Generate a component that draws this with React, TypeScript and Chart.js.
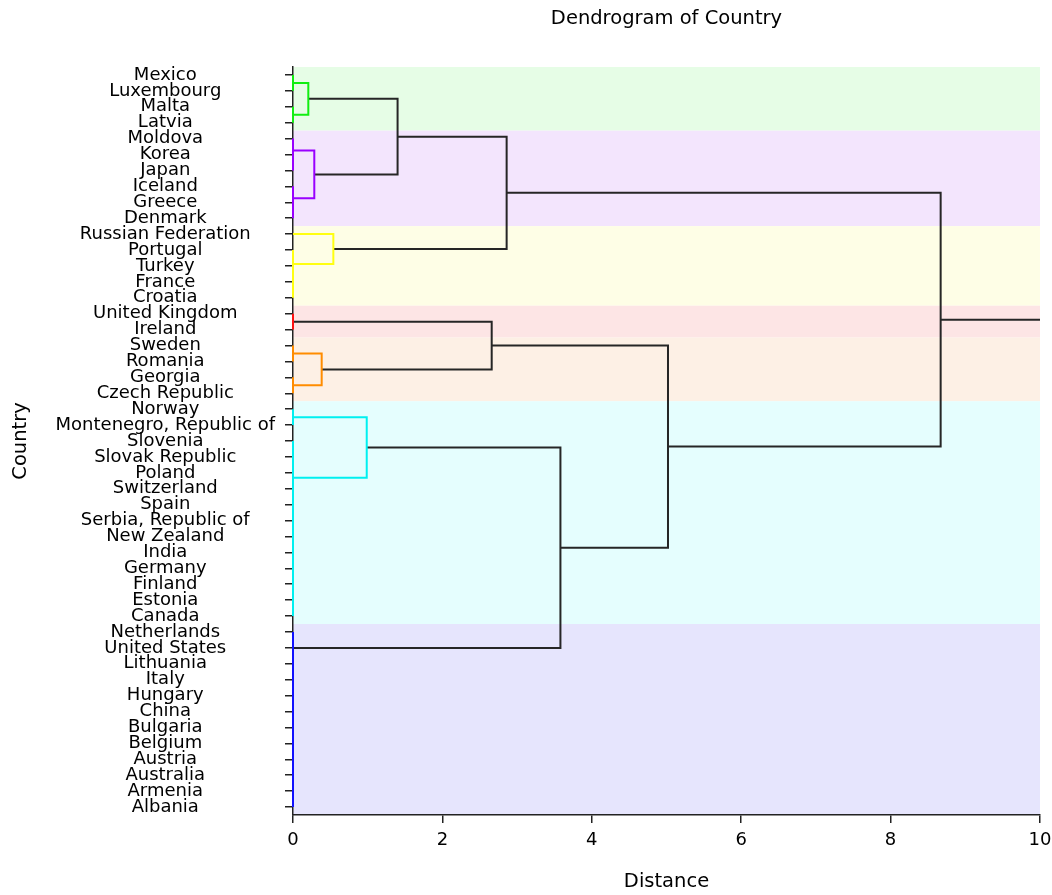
import React, { useEffect, useRef } from 'react';
import { Chart, registerables } from 'chart.js';

Chart.register(...registerables);

// Leaves in display order (top to bottom)
const countries = [
  'Mexico', 'Luxembourg', 'Malta', 'Latvia', 'Moldova', 'Korea', 'Japan', 'Iceland', 'Greece', 'Denmark',
  'Russian Federation', 'Portugal', 'Turkey', 'France', 'Croatia', 'United Kingdom', 'Ireland', 'Sweden',
  'Romania', 'Georgia', 'Czech Republic', 'Norway', 'Montenegro, Republic of', 'Slovenia', 'Slovak Republic',
  'Poland', 'Switzerland', 'Spain', 'Serbia, Republic of', 'New Zealand', 'India', 'Germany', 'Finland',
  'Estonia', 'Canada', 'Netherlands', 'United States', 'Lithuania', 'Italy', 'Hungary', 'China', 'Bulgaria',
  'Belgium', 'Austria', 'Australia', 'Armenia', 'Albania',
];

// Linkage: node ids < 47 are leaves, id 47 + k is merge k
const mergeLeft = [
  0, 2, 47,
  5, 4, 8, 7, 51,
  49,
  13, 12, 11, 10,
  55,
  15,
  17, 19, 62,
  61,
  21, 23, 25, 27, 33, 32, 31, 30, 29, 69, 68, 67, 66,
  45, 44, 43, 42, 41, 40, 39, 38, 37, 36, 35,
  78,
  65,
  60,
];
const mergeRight = [
  1, 3, 48,
  6, 50, 9, 52, 53,
  54,
  14, 56, 57, 58,
  59,
  16,
  18, 20, 63,
  64,
  22, 24, 26, 28, 34, 70, 71, 72, 73, 74, 75, 76, 77,
  46, 79, 80, 81, 82, 83, 84, 85, 86, 87, 88,
  89,
  90,
  91,
];
const mergeHeight = [
  0, 0, 0.205,
  0, 0, 0, 0, 0.285,
  1.40,
  0, 0, 0, 0.54,
  2.86,
  0,
  0, 0, 0.384,
  2.66,
  0, 0, 0, 0, 0, 0, 0, 0, 0, 0, 0, 0, 0.987,
  0, 0, 0, 0, 0, 0, 0, 0, 0, 0, 0,
  3.58,
  5.02,
  8.67,
];

// Clusters (row ranges) and colours
const clusterFirst = [0, 4, 10, 15, 17, 21, 35];
const clusterLast = [3, 9, 14, 16, 20, 34, 46];
const clusterLineColors = ['#11ee11', '#9900ff', '#ffff11', '#ff1111', '#ff8c00', '#00f0f0', '#1111ff'];
const clusterBandColors = ['#e6fde6', '#f3e5fd', '#fefee6', '#fde5e5', '#fdf0e5', '#e5fefe', '#e6e5fd'];

const xTickMax = 10;
const linkColor = '#262626';

export default function App() {
  const canvasRef = useRef<HTMLCanvasElement | null>(null);

  useEffect(() => {
    const canvas = canvasRef.current;
    if (!canvas) return;

    const N = countries.length;
    const leafCluster = countries.map((_, i) => clusterFirst.findIndex((f, c) => i >= f && i <= clusterLast[c]));
    const nodeY: number[] = countries.map((_, i) => i);
    const nodeH: number[] = countries.map(() => 0);
    const nodeC: number[] = [...leafCluster];
    mergeLeft.forEach((a, k) => {
      const b = mergeRight[k];
      nodeY.push((nodeY[a] + nodeY[b]) / 2);
      nodeH.push(mergeHeight[k]);
      nodeC.push(nodeC[a] === nodeC[b] ? nodeC[a] : -1);
    });

    const datasets: any[] = mergeLeft.map((a, k) => {
      const b = mergeRight[k];
      const h = mergeHeight[k];
      const c = nodeC[N + k];
      return {
        data: [
          { x: nodeH[a], y: nodeY[a] },
          { x: h, y: nodeY[a] },
          { x: h, y: nodeY[b] },
          { x: nodeH[b], y: nodeY[b] },
        ],
        borderColor: c >= 0 ? clusterLineColors[c] : linkColor,
      };
    });
    const rootId = nodeY.length - 1;
    datasets.push({
      data: [
        { x: nodeH[rootId], y: nodeY[rootId] },
        { x: xTickMax, y: nodeY[rootId] },
      ],
      borderColor: linkColor,
    });
    datasets.forEach((d) => {
      d.showLine = true;
      d.borderWidth = 2;
      d.pointRadius = 0;
      d.fill = false;
      d.tension = 0;
      d.clip = false;
    });

    const bandsPlugin = {
      id: 'bands',
      beforeDraw(chart: any) {
        const { ctx, scales } = chart;
        const xs = scales.x;
        const ys = scales.y;
        ctx.save();
        clusterFirst.forEach((f, c) => {
          const y1 = ys.getPixelForValue(f - 0.5);
          const y2 = ys.getPixelForValue(clusterLast[c] + 0.5);
          const x1 = xs.getPixelForValue(0);
          const x2 = xs.getPixelForValue(xTickMax);
          ctx.fillStyle = clusterBandColors[c];
          ctx.fillRect(x1, Math.min(y1, y2), x2 - x1, Math.abs(y2 - y1));
        });
        ctx.restore();
      },
    };

    const titlePlugin = {
      id: 'plotTitle',
      afterDraw(chart: any) {
        const { ctx, chartArea } = chart;
        ctx.save();
        ctx.font = '19.5px "DejaVu Sans"';
        ctx.fillStyle = '#000';
        ctx.textAlign = 'center';
        ctx.textBaseline = 'middle';
        ctx.fillText('Dendrogram of Country', (chartArea.left + chartArea.right) / 2, 19);
        ctx.restore();
      },
    };

    Chart.defaults.font.family = '"DejaVu Sans"';
    Chart.defaults.color = '#000';

    const chart = new Chart(canvas, {
      type: 'scatter',
      data: { datasets },
      plugins: [bandsPlugin, titlePlugin],
      options: {
        animation: false,
        responsive: false,
        layout: { padding: { top: 67, right: 12, bottom: 0, left: 0 } },
        plugins: { legend: { display: false }, tooltip: { enabled: false } },
        scales: {
          x: {
            type: 'linear',
            min: 0,
            max: xTickMax,
            bounds: 'data',
            ticks: { stepSize: 2, font: { size: 18 }, color: '#000', padding: 7, maxRotation: 0 },
            grid: { drawOnChartArea: false, drawTicks: true, tickLength: 8, color: '#222', lineWidth: 1.5 },
            border: { display: true, color: '#222', width: 1.5 },
            title: { display: true, text: 'Distance', font: { size: 19.5 }, color: '#000', padding: { top: 0, bottom: 1 } },
            afterFit: (s: any) => { s.height = 80; s.paddingRight = 0; s.paddingLeft = 0; },
          },
          y: {
            type: 'linear',
            reverse: true,
            min: -0.5,
            max: countries.length - 0.5,
            bounds: 'data',
            afterBuildTicks: (s: any) => { s.ticks = countries.map((_, i) => ({ value: i })); },
            ticks: {
              autoSkip: false,
              font: { size: 18 },
              color: '#000',
              crossAlign: 'center',
              padding: 10,
              callback: (v: any) => countries[Math.round(Number(v))] ?? '',
            },
            grid: { drawOnChartArea: false, drawTicks: true, tickLength: 8, color: '#222', lineWidth: 1.5 },
            border: { display: true, color: '#222', width: 1.5 },
            title: { display: true, text: 'Country', font: { size: 19.5 }, color: '#000', padding: { top: 9, bottom: 0 } },
            afterFit: (s: any) => { s.width = 293; },
          },
        },
      } as any,
    });

    return () => chart.destroy();
  }, []);

  return (
    <div style={{ position: 'absolute', left: 0, top: 0, width: 1052, height: 895, background: '#fff' }}>
      <canvas ref={canvasRef} width={1052} height={895} style={{ display: 'block', width: 1052, height: 895 }} />
    </div>
  );
}
